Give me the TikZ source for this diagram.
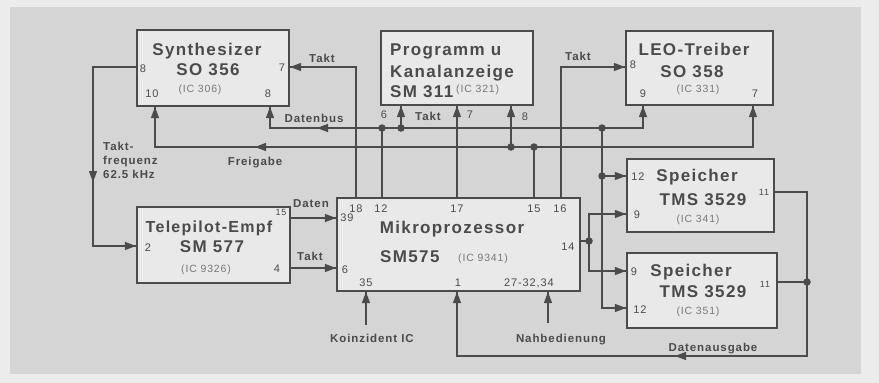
\documentclass[tikz,border=0pt]{standalone}
\usepackage{fontspec}
\setmainfont{Liberation Sans}
\newfontfamily\tfont[LetterSpace=8]{Liberation Sans}
\usetikzlibrary{decorations.markings}
\definecolor{bgout}{RGB}{236,236,236}
\definecolor{bgin}{RGB}{213,213,213}
\definecolor{boxfill}{RGB}{233,233,233}
\definecolor{ink}{RGB}{75,75,75}
\definecolor{inklight}{RGB}{120,120,120}
\newcommand{\mytip}{\fill[ink] (1pt,0pt) -- (-10pt,4.2pt) -- (-10pt,-4.2pt) -- cycle;}
\begin{document}
\begin{tikzpicture}[x=1pt,y=-1pt,
 box/.style={draw=ink,line width=2.2pt,fill=boxfill,inner sep=0pt},
 wire/.style={color=ink,line width=1.7pt},
 arr/.style={wire,postaction={decorate,decoration={markings,mark=at position -1pt with {\mytip}}}},
 dotn/.style={circle,fill=ink,inner sep=0pt,minimum size=7.5pt},
 ttl/.style={anchor=base,text=ink,inner sep=0pt,font=\tfont\bfseries\fontsize{17}{17}\selectfont},
 pinl/.style={anchor=base,text=ink,inner sep=0pt,font=\tfont\fontsize{11}{11}\selectfont},
 ic/.style={anchor=base,text=inklight,inner sep=0pt,font=\tfont\fontsize{10.5}{10.5}\selectfont},
 sig/.style={anchor=base,text=ink,inner sep=0pt,font=\tfont\bfseries\fontsize{11.5}{11.5}\selectfont},
]
\useasboundingbox (0,0) rectangle (879,383);
\fill[bgout] (0,0) rectangle (879,383);
\fill[bgin] (10,7) rectangle (861,374);

% boxes
\node[box,minimum width=152pt,minimum height=76pt] (syn) at (213,68) {};
\node[box,minimum width=152pt,minimum height=74pt] (prog) at (457,68) {};
\node[box,minimum width=147pt,minimum height=74pt] (led) at (699.5,68) {};
\node[box,minimum width=153pt,minimum height=76pt] (tele) at (213.5,245) {};
\node[box,minimum width=243pt,minimum height=93pt] (mp) at (458.5,244.5) {};
\node[box,minimum width=147pt,minimum height=73pt] (sp1) at (700.5,195.5) {};
\node[box,minimum width=150pt,minimum height=75pt] (sp2) at (702,290.5) {};

% box texts
\node[ttl] (t1) at (207,55) {Synthesizer};
\node[ttl] (t2) at (208,75) {SO 356};
\node[ic] (t3) at (200,92) {(IC 306)};
\node[pinl] (p1) at (143,72) {8};
\node[pinl] (p2) at (282,71) {7};
\node[pinl] (p3) at (152,97) {10};
\node[pinl] (p4) at (268,97) {8};

\node[ttl,anchor=base west] (t4) at (390,55) {Programm u};
\node[ttl,anchor=base west] (t5) at (390,77) {Kanalanzeige};
\node[ttl,anchor=base west] (t6) at (390,97) {SM 311};
\node[ic,anchor=base west] (t7) at (456,92) {(IC 321)};

\node[ttl] (t8) at (694,55) {LEO-Treiber};
\node[ttl] (t9) at (692,77) {SO 358};
\node[ic] (t10) at (698,92) {(IC 331)};
\node[pinl] (p5) at (633,68) {8};
\node[pinl] (p6) at (643,97) {9};
\node[pinl] (p7) at (755,97) {7};

\node[ttl,font=\tfont\bfseries\fontsize{16}{16}\selectfont] (t11) at (209,232) {Telepilot-Empf};
\node[ttl] (t12) at (212,252) {SM 577};
\node[ic] (t13) at (206,272) {(IC 9326)};
\node[pinl,font=\tfont\fontsize{9}{9}\selectfont] (p8) at (281,215) {15};
\node[pinl] (p9) at (148,251) {2};
\node[pinl] (p10) at (277,272) {4};

\node[ttl] (t14) at (452,233) {Mikroprozessor};
\node[ttl,anchor=base west] (t15) at (380,262) {SM575};
\node[ic,anchor=base west] (t16) at (458,261) {(IC 9341)};
\node[pinl] (p11) at (356,212) {18};
\node[pinl] (p12) at (381,212) {12};
\node[pinl] (p13) at (457,212) {17};
\node[pinl] (p14) at (534,212) {15};
\node[pinl] (p15) at (560,212) {16};
\node[pinl] (p16) at (347,221) {39};
\node[pinl] (p17) at (345,273) {6};
\node[pinl] (p18) at (568,250) {14};
\node[pinl] (p19) at (366,286) {35};
\node[pinl] (p20) at (458,286) {1};
\node[pinl] (p21) at (529,286) {27-32,34};

\node[ttl] (t17) at (697,181) {Speicher};
\node[ttl] (t18) at (703,205) {TMS 3529};
\node[ic] (t19) at (698,222) {(IC 341)};
\node[pinl] (p22) at (638,180) {12};
\node[pinl] (p23) at (637,218) {9};
\node[pinl,font=\tfont\fontsize{9}{9}\selectfont] (p24) at (764,195) {11};

\node[ttl] (t20) at (691,276) {Speicher};
\node[ttl] (t21) at (703,297) {TMS 3529};
\node[ic] (t22) at (698,314) {(IC 351)};
\node[pinl] (p25) at (634,275) {9};
\node[pinl] (p26) at (640,313) {12};
\node[pinl,font=\tfont\fontsize{9}{9}\selectfont] (p27) at (765,287) {11};

% signal labels
\node[sig] (l1) at (322,62) {Takt};
\node[sig] (l2) at (314,122) {Datenbus};
\node[sig] (l3) at (428,120) {Takt};
\node[pinl] (l3a) at (384,118) {6};
\node[pinl] (l3b) at (470,118) {7};
\node[pinl] (l3c) at (525,120) {8};
\node[sig] (l4) at (578,60) {Takt};
\node[sig,anchor=base west] (l5) at (103,150) {Takt-};
\node[sig,anchor=base west] (l6) at (103,164) {frequenz};
\node[sig,anchor=base west] (l7) at (103,178) {62.5 kHz};
\node[sig] (l8) at (255,165) {Freigabe};
\node[sig] (l9) at (311,207) {Daten};
\node[sig] (l10) at (310,260) {Takt};
\node[sig] (l11) at (372,342) {Koinzident IC};
\node[sig] (l12) at (561,342) {Nahbedienung};
\node[sig] (l13) at (713,351) {Datenausgabe};

% pin coordinates
\coordinate (syn8) at (syn.west |- 0,67);
\coordinate (syn7) at (syn.east |- 0,67);
\coordinate (syn10) at (155,0 |- syn.south);
\coordinate (synB8) at (270,0 |- syn.south);
\coordinate (prog6) at (401,0 |- prog.south);
\coordinate (prog7) at (457,0 |- prog.south);
\coordinate (prog8) at (511,0 |- prog.south);
\coordinate (led8) at (led.west |- 0,67);
\coordinate (led9) at (643,0 |- led.south);
\coordinate (led7) at (753,0 |- led.south);
\coordinate (tele2) at (tele.west |- 0,246);
\coordinate (tele15) at (tele.east |- 0,218);
\coordinate (tele4) at (tele.east |- 0,268);
\coordinate (mp18) at (356,0 |- mp.north);
\coordinate (mp12) at (382,0 |- mp.north);
\coordinate (mp17) at (457,0 |- mp.north);
\coordinate (mp15) at (534,0 |- mp.north);
\coordinate (mp16) at (561,0 |- mp.north);
\coordinate (mp39) at (mp.west |- 0,218);
\coordinate (mp6) at (mp.west |- 0,268);
\coordinate (mp14) at (mp.east |- 0,241);
\coordinate (mp35) at (366,0 |- mp.south);
\coordinate (mp1) at (457,0 |- mp.south);
\coordinate (mp27) at (548,0 |- mp.south);
\coordinate (sp1a) at (sp1.west |- 0,176);
\coordinate (sp1b) at (sp1.west |- 0,214);
\coordinate (sp1c) at (sp1.east |- 0,192);
\coordinate (sp2a) at (sp2.west |- 0,271);
\coordinate (sp2b) at (sp2.west |- 0,308);
\coordinate (sp2c) at (sp2.east |- 0,282);
\coordinate (koin) at (366,325);
\coordinate (nahb) at (548,323);
\coordinate (tfc) at (93,67);
\coordinate (tfm) at (93,182);
\coordinate (tfb) at (93,246);
\coordinate (dbm) at (317,128);
\coordinate (dbl) at (270,128);
\coordinate (fgm) at (255,147);
\coordinate (fgl) at (155,147);
\coordinate (dacorner) at (807,356);
\coordinate (dam) at (675,356);
\coordinate (dabot) at (457,356);

% junction dots
\node[dotn] (d1) at (382,128) {};
\node[dotn] (d2) at (401,128) {};
\node[dotn] (d3) at (602,128) {};
\node[dotn] (d4) at (511,147) {};
\node[dotn] (d5) at (534,147) {};
\node[dotn] (d6) at (602,176) {};
\node[dotn] (d7) at (589,241) {};
\node[dotn] (d8) at (807,282) {};

% connectors
\draw[arr] (syn8) -- (tfc) -- (tfm);
\draw[arr] (tfm) -- (tfb) -- (tele2);
\draw[arr] (mp18) |- (syn7);
\draw[arr] (d1.center) -- (dbm);
\draw[arr] (dbm) -- (dbl) -- (synB8);
\draw[wire] (mp12) -- (d1.center);
\draw[arr] (d1.center) -- (d3.center) -| (led9);
\draw[arr] (d2.center) -- (prog6);
\draw[arr] (d3.center) |- (sp2b);
\draw[arr] (d6.center) -- (sp1a);
\draw[arr] (mp15) -- (d5.center) -- (fgm);
\draw[arr] (fgm) -- (fgl) -- (syn10);
\draw[arr] (d5.center) -| (led7);
\draw[arr] (d4.center) -- (prog8);
\draw[arr] (mp17) -- (prog7);
\draw[arr] (mp16) |- (led8);
\draw[arr] (tele15) -- (mp39);
\draw[arr] (tele4) -- (mp6);
\draw[wire] (mp14) -- (d7.center);
\draw[arr] (d7.center) |- (sp1b);
\draw[arr] (d7.center) |- (sp2a);
\draw[arr] (sp1c) -| (dacorner) -- (dam);
\draw[arr] (dam) -- (dabot) -- (mp1);
\draw[wire] (sp2c) -- (d8.center);
\draw[arr] (koin) -- (mp35);
\draw[arr] (nahb) -- (mp27);
\end{tikzpicture}
\end{document}
